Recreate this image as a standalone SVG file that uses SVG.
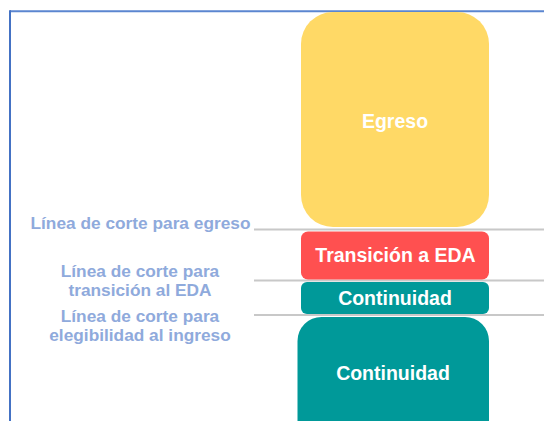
<svg xmlns="http://www.w3.org/2000/svg" width="544" height="421" viewBox="0 0 544 421">
<style>
.box-text{font-family:"Liberation Sans",Arial,sans-serif;font-weight:bold;font-size:19.5px;fill:#ffffff;text-anchor:middle}
.lbl{font-family:"Liberation Sans",Arial,sans-serif;font-weight:bold;font-size:17.3px;fill:#8FAADC;text-anchor:middle}
.cut{stroke:#C8C8C8;stroke-width:2;fill:none}
</style>
<rect width="544" height="421" fill="#ffffff"/>
<g id="frame">
<line x1="10" y1="11.3" x2="544" y2="11.3" stroke="#5B86D0" stroke-width="2"/>
<line x1="10" y1="10.3" x2="10" y2="421" stroke="#4472C4" stroke-width="2"/>
</g>
<g id="connectors">
<line class="cut" x1="254" y1="229.5" x2="544" y2="229.5"/>
<line class="cut" x1="254" y1="280.5" x2="544" y2="280.5"/>
<line class="cut" x1="254" y1="315" x2="544" y2="315"/>
</g>
<g id="egreso">
<rect x="301" y="12" width="188" height="215" rx="32" ry="32" fill="#FFD966"/>
<text class="box-text" x="395" y="127.5">Egreso</text>
</g>
<g id="transicion">
<rect x="301" y="231.5" width="188" height="48" rx="7" ry="7" fill="#FF5050"/>
<text class="box-text" x="395.5" y="262">Transición a EDA</text>
</g>
<g id="continuidad-small">
<rect x="301" y="282" width="188" height="32" rx="6" ry="6" fill="#009999"/>
<text class="box-text" x="395" y="304.5">Continuidad</text>
</g>
<g id="continuidad-large">
<rect x="297.5" y="317" width="191.5" height="130" rx="24" ry="24" fill="#009999"/>
<text class="box-text" x="393" y="380">Continuidad</text>
</g>
<g id="label-egreso">
<text class="lbl" x="140.5" y="229">Línea de corte para egreso</text>
</g>
<g id="label-transicion">
<text class="lbl" x="140" y="276.5">Línea de corte para</text>
<text class="lbl" x="140" y="296">transición al EDA</text>
</g>
<g id="label-ingreso">
<text class="lbl" x="140" y="321.5">Línea de corte para</text>
<text class="lbl" x="140" y="341">elegibilidad al ingreso</text>
</g>
</svg>
